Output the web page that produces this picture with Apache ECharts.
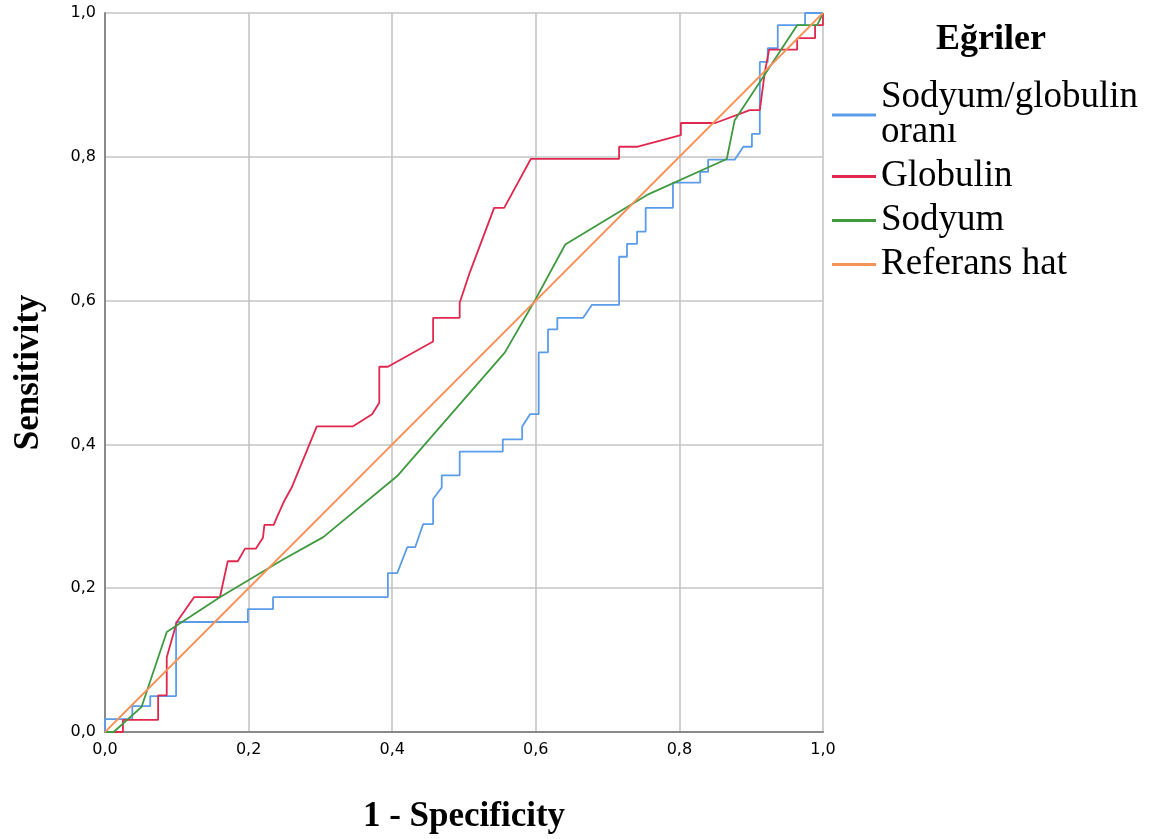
<!DOCTYPE html>
<html>
<head>
<meta charset="utf-8">
<script src="https://cdn.jsdelivr.net/npm/echarts@6/dist/echarts.min.js"></script>
<style>html,body{margin:0;padding:0;background:#fff}#c{width:1153px;height:839px}</style>
</head>
<body>
<div id="c"></div>
<script>
// Tick values for both axes
var tickValues = [0, 0.2, 0.4, 0.6, 0.8, 1.0];

var seriesNames = ['Sodyum/globulin\noranı', 'Globulin', 'Sodyum', 'Referans hat'];
var legendTitle = 'Eğriler';
var xTitle = '1 - Specificity';
var yTitle = 'Sensitivity';

// Sodyum/globulin oranı  [1-specificity, sensitivity]
var ratioCurve = [
  [0,0],[0,0.018],[0.038,0.018],[0.038,0.036],[0.063,0.036],[0.063,0.05],[0.099,0.05],
  [0.099,0.153],[0.199,0.153],[0.199,0.171],[0.234,0.171],[0.234,0.1875],[0.394,0.1875],
  [0.394,0.221],[0.407,0.221],[0.421,0.257],[0.432,0.257],[0.443,0.289],[0.457,0.289],
  [0.457,0.324],[0.469,0.340],[0.469,0.357],[0.494,0.357],[0.494,0.390],[0.554,0.390],
  [0.554,0.407],[0.581,0.407],[0.581,0.425],[0.592,0.442],[0.604,0.442],[0.604,0.528],
  [0.617,0.528],[0.617,0.56],[0.630,0.56],[0.630,0.576],[0.666,0.576],[0.678,0.594],
  [0.716,0.594],[0.716,0.661],[0.727,0.661],[0.727,0.679],[0.741,0.679],[0.741,0.696],
  [0.753,0.696],[0.753,0.729],[0.791,0.729],[0.791,0.764],[0.829,0.764],[0.829,0.779],
  [0.840,0.779],[0.840,0.796],[0.877,0.796],[0.889,0.814],[0.901,0.814],[0.901,0.832],
  [0.912,0.832],[0.912,0.932],[0.923,0.932],[0.923,0.951],[0.937,0.951],[0.937,0.983],
  [0.975,0.983],[0.975,1],[1,1]
];

// Globulin
var globulinCurve = [
  [0,0],[0.025,0],[0.025,0.017],[0.074,0.017],[0.074,0.051],[0.086,0.051],[0.086,0.104],
  [0.1,0.153],[0.124,0.1875],[0.16,0.1875],[0.171,0.2375],[0.185,0.2375],[0.195,0.255],
  [0.21,0.255],[0.22,0.27],[0.222,0.288],[0.235,0.288],[0.24,0.3],[0.25,0.322],[0.26,0.34],
  [0.295,0.425],[0.345,0.425],[0.372,0.442],[0.382,0.458],[0.382,0.508],[0.394,0.508],
  [0.457,0.543],[0.457,0.576],[0.494,0.576],[0.494,0.597],[0.508,0.639],[0.542,0.729],
  [0.556,0.729],[0.593,0.797],[0.716,0.797],[0.716,0.814],[0.742,0.814],[0.802,0.83],
  [0.802,0.847],[0.85,0.847],[0.898,0.865],[0.912,0.865],[0.919,0.918],[0.925,0.949],
  [0.964,0.949],[0.964,0.965],[0.989,0.965],[0.989,0.983],[1,0.983],[1,1]
];

// Sodyum
var sodyumCurve = [
  [0,0],[0.012,0],[0.051,0.035],[0.086,0.139],[0.16,0.1875],[0.248,0.24],[0.304,0.271],
  [0.407,0.356],[0.557,0.528],[0.598,0.599],[0.641,0.678],[0.755,0.747],[0.866,0.797],
  [0.877,0.851],[0.964,0.983],[0.992,0.983],[1,1]
];

// Referans hat
var referenceLine = [[0,0],[1,1]];

var colors = ['#5b9cea', '#e0284f', '#3f9a3f', '#f5925a'];

var chart = echarts.init(document.getElementById('c'), null, {renderer: 'canvas'});
var fmt = function (v) { return v.toFixed(1).replace('.', ','); };
var serif = '"Liberation Serif", "Times New Roman", serif';
var sans = '"DejaVu Sans", Tahoma, sans-serif';

function mk(name, data, color) {
  return {
    name: name, type: 'line', data: data, symbol: 'none', smooth: false,
    lineStyle: {color: color, width: 1.8}, itemStyle: {color: color},
    animation: false
  };
}

chart.setOption({
  animation: false,
  backgroundColor: '#fff',
  color: colors,
  title: {
    text: legendTitle, left: 986, top: 17, textAlign: 'center',
    textStyle: {fontFamily: serif, fontWeight: 'bold', fontSize: 36, color: '#000'}
  },
  legend: {
    orient: 'vertical', left: 827, top: 74, itemGap: 7,
    itemWidth: 44, itemHeight: 3, icon: 'rect',
    data: seriesNames,
    textStyle: {fontFamily: serif, fontSize: 37, color: '#000', lineHeight: 35},
    selectedMode: false
  },
  grid: {left: 105, top: 13, right: 330, bottom: 106, containLabel: false},
  xAxis: {
    type: 'value', min: 0, max: 1, interval: 0.2,
    name: xTitle, nameLocation: 'middle', nameGap: 67,
    nameTextStyle: {fontFamily: serif, fontWeight: 'bold', fontSize: 35, color: '#000'},
    axisLine: {show: true, lineStyle: {color: '#8a8a8a', width: 2}},
    axisTick: {show: false},
    axisLabel: {formatter: fmt, fontFamily: sans, fontSize: 16, color: '#000', margin: 10},
    splitLine: {show: true, lineStyle: {color: '#c4c4c4', width: 1.6}}
  },
  yAxis: {
    type: 'value', min: 0, max: 1, interval: 0.2,
    name: yTitle, nameLocation: 'middle', nameGap: 59,
    nameTextStyle: {fontFamily: serif, fontWeight: 'bold', fontSize: 35, color: '#000'},
    axisLine: {show: true, lineStyle: {color: '#8a8a8a', width: 2}},
    axisTick: {show: false},
    axisLabel: {formatter: fmt, fontFamily: sans, fontSize: 16, color: '#000', margin: 9},
    splitLine: {show: true, lineStyle: {color: '#c4c4c4', width: 1.6}}
  },
  series: [
    mk(seriesNames[0], ratioCurve, colors[0]),
    mk(seriesNames[1], globulinCurve, colors[1]),
    mk(seriesNames[2], sodyumCurve, colors[2]),
    mk(seriesNames[3], referenceLine, colors[3])
  ]
});
</script>
</body>
</html>
